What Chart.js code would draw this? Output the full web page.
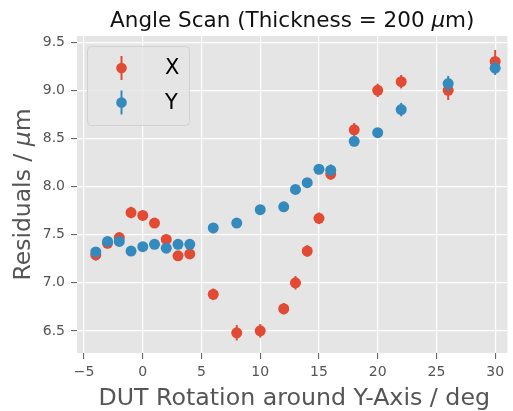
<!DOCTYPE html>
<html>
<head>
<meta charset="utf-8">
<script src="https://cdn.jsdelivr.net/npm/chart.js@4.4.1/dist/chart.umd.min.js"></script>
<style>
  html, body { margin: 0; padding: 0; background: #fff; }
  #wrap { width: 513px; height: 411px; }
</style>
</head>
<body>
<div id="wrap"><canvas id="chart" width="513" height="411"></canvas></div>
<script>
// angle scan data
const angles = [-4, -3, -2, -1, 0, 1, 2, 3, 4, 6, 8, 10, 12, 13, 14, 15, 16, 18, 20, 22, 26, 30];
const resX = [7.29, 7.41, 7.47, 7.73, 7.70, 7.62, 7.45, 7.28, 7.30, 6.88, 6.48, 6.50, 6.73, 7.00, 7.33, 7.67, 8.13, 8.59, 9.00, 9.09, 9.00, 9.30];
const errX = [0.06, 0.05, 0.05, 0.06, 0.05, 0.05, 0.05, 0.05, 0.05, 0.06, 0.08, 0.07, 0.06, 0.07, 0.06, 0.06, 0.06, 0.07, 0.07, 0.07, 0.10, 0.12];
const resY = [7.32, 7.43, 7.43, 7.33, 7.375, 7.40, 7.36, 7.40, 7.40, 7.57, 7.62, 7.76, 7.79, 7.97, 8.04, 8.18, 8.17, 8.47, 8.56, 8.80, 9.07, 9.23];
const errY = [0.04, 0.04, 0.04, 0.04, 0.04, 0.04, 0.04, 0.04, 0.04, 0.04, 0.04, 0.04, 0.04, 0.04, 0.04, 0.04, 0.06, 0.05, 0.04, 0.07, 0.08, 0.07];
const xTicks = [-5, 0, 5, 10, 15, 20, 25, 30];
const yTicks = [6.5, 7.0, 7.5, 8.0, 8.5, 9.0, 9.5];
const seriesNames = ["X", "Y"];

const RED = "#E24A33";
const BLUE = "#348ABD";
const FONT = "'DejaVu Sans', 'Liberation Sans', sans-serif";

function points(xs, ys) {
  return xs.map((x, i) => ({ x, y: ys[i] }));
}

/* ---------- plugins ---------- */
const bgPlugin = {
  id: "bg",
  beforeDraw(chart) {
    const { ctx, chartArea: a } = chart;
    ctx.save();
    ctx.fillStyle = "#fff";
    ctx.fillRect(0, 0, chart.width, chart.height);
    ctx.fillStyle = "#E5E5E5";
    ctx.fillRect(a.left, a.top, a.right - a.left, a.bottom - a.top);
    ctx.restore();
  }
};

// vertical error bars, drawn right before each dataset's markers
const errorBars = {
  id: "errorBars",
  beforeDatasetDraw(chart, args) {
    const ds = chart.data.datasets[args.index];
    if (!ds.err) return;
    const { ctx, scales: { x, y } } = chart;
    ctx.save();
    ctx.strokeStyle = ds.backgroundColor;
    ctx.lineWidth = 2;
    ds.data.forEach((p, i) => {
      const px = x.getPixelForValue(p.x);
      ctx.beginPath();
      ctx.moveTo(px, y.getPixelForValue(p.y - ds.err[i]));
      ctx.lineTo(px, y.getPixelForValue(p.y + ds.err[i]));
      ctx.stroke();
    });
    ctx.restore();
  }
};

function drawMixed(ctx, parts, x, y, size, align) {
  // parts: [text, italic]
  const widths = parts.map(([t, it]) => {
    ctx.font = `${it ? "oblique " : ""}${size}px ${FONT}`;
    return ctx.measureText(t).width;
  });
  const total = widths.reduce((a, b) => a + b, 0);
  let cx = align === "center" ? x - total / 2 : x;
  parts.forEach(([t, it], i) => {
    ctx.font = `${it ? "oblique " : ""}${size}px ${FONT}`;
    ctx.fillText(t, cx, y);
    cx += widths[i];
  });
}

const titles = {
  id: "titles",
  afterDraw(chart) {
    const { ctx, chartArea: a } = chart;
    const midX = (a.left + a.right) / 2;
    const midY = (a.top + a.bottom) / 2;
    ctx.save();
    ctx.textAlign = "left";
    ctx.textBaseline = "alphabetic";
    ctx.fillStyle = "#111";
    drawMixed(ctx, [["Angle Scan (Thickness = 200 ", false], ["\u03bc", true], ["m)", false]], midX, 26.5, 21.5, "center");

    ctx.fillStyle = "#555";
    drawMixed(ctx, [["DUT Rotation around Y-Axis / deg", false]], midX + 2, 405, 23.7, "center");

    ctx.translate(30, midY);
    ctx.rotate(-Math.PI / 2);
    drawMixed(ctx, [["Residuals / ", false], ["\u03bc", true], ["m", false]], 0, 0, 23.5, "center");
    ctx.restore();
  }
};

const legendBox = {
  id: "legendBox",
  afterDraw(chart) {
    const { ctx } = chart;
    const colors = [RED, BLUE];
    ctx.save();
    ctx.beginPath();
    ctx.roundRect(87.5, 46.5, 102, 79, 4);
    ctx.fillStyle = "rgba(229,229,229,0.8)";
    ctx.fill();
    ctx.strokeStyle = "rgba(204,204,204,0.8)";
    ctx.lineWidth = 1;
    ctx.stroke();
    seriesNames.forEach((name, i) => {
      const cy = 68 + i * 34.5;
      ctx.strokeStyle = colors[i];
      ctx.fillStyle = colors[i];
      ctx.lineWidth = 2;
      ctx.beginPath();
      ctx.moveTo(121.5, cy - 12);
      ctx.lineTo(121.5, cy + 12);
      ctx.stroke();
      ctx.beginPath();
      ctx.arc(121.5, cy, 5.3, 0, Math.PI * 2);
      ctx.fill();
      ctx.fillStyle = "#000";
      ctx.font = `21px ${FONT}`;
      ctx.textAlign = "left";
      ctx.textBaseline = "middle";
      ctx.fillText(name, 165, cy + 1);
    });
    ctx.restore();
  }
};

/* ---------- chart ---------- */
new Chart(document.getElementById("chart"), {
  type: "scatter",
  data: {
    datasets: [
      { label: seriesNames[0], data: points(angles, resX), err: errX, backgroundColor: RED, pointRadius: 5.5, pointBorderWidth: 0, order: 1 },
      { label: seriesNames[1], data: points(angles, resY), err: errY, backgroundColor: BLUE, pointRadius: 5.5, pointBorderWidth: 0, order: 0 }
    ]
  },
  options: {
    responsive: false,
    animation: false,
    events: [],
    layout: { padding: { top: 36, right: 3, left: 0, bottom: 0 } },
    plugins: { legend: { display: false }, tooltip: { enabled: false } },
    scales: {
      x: {
        type: "linear",
        min: -5.6,
        max: 31.05,
        afterBuildTicks: s => { s.ticks = xTicks.map(v => ({ value: v })); },
        afterFit: s => { s.height = 58; },
        grid: { color: "#fff", lineWidth: 1.2, tickColor: "#555", tickLength: 6, tickWidth: 1 },
        border: { display: false },
        ticks: {
          color: "#555",
          padding: 5,
          font: { family: FONT, size: 14 },
          callback: v => String(v).replace("-", "\u2212")
        }
      },
      y: {
        type: "linear",
        min: 6.27,
        max: 9.565,
        afterBuildTicks: s => { s.ticks = yTicks.map(v => ({ value: v })); },
        afterFit: s => { s.width = 77; },
        grid: { color: "#fff", lineWidth: 1.2, tickColor: "#555", tickLength: 6, tickWidth: 1 },
        border: { display: false },
        ticks: {
          color: "#555",
          padding: 6,
          font: { family: FONT, size: 14 },
          callback: v => Number(v).toFixed(1)
        }
      }
    }
  },
  plugins: [bgPlugin, errorBars, titles, legendBox]
});
</script>
</body>
</html>
